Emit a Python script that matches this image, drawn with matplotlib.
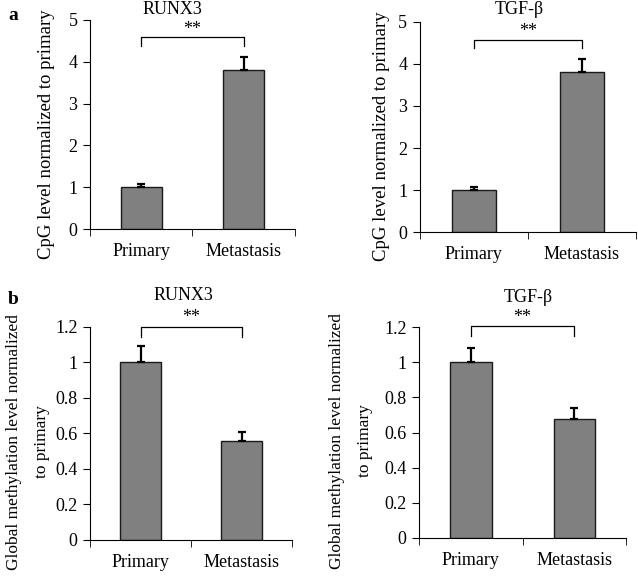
from matplotlib import pyplot as plt
import numpy as np

plt.rcParams['font.family'] = ['Liberation Serif', 'DejaVu Serif']
plt.rcParams['font.size'] = 13

groups = ["Primary", "Metastasis"]

# panel a: CpG level
cpg_runx3 = [1.0, 3.8]
cpg_runx3_err = [0.08, 0.32]
cpg_tgfb = [1.0, 3.8]
cpg_tgfb_err = [0.07, 0.32]

# panel b: global methylation
meth_runx3 = [1.0, 0.56]
meth_runx3_err = [0.09, 0.05]
meth_tgfb = [1.0, 0.68]
meth_tgfb_err = [0.08, 0.06]

cpg_ticks = [0, 1, 2, 3, 4, 5]
cpg_ticklabels = ["0", "1", "2", "3", "4", "5"]
meth_ticks = [0, 0.2, 0.4, 0.6, 0.8, 1.0, 1.2]
meth_ticklabels = ["0", "0.2", "0.4", "0.6", "0.8", "1", "1.2"]


def bar_panel(ax, vals, errs, ticks, ticklabels, br_low, br_top, star_y):
  x = np.arange(len(groups))
  ax.bar(x, vals, width=0.4, color='#808080', edgecolor='#1a1a1a', linewidth=1.0, zorder=2)
  ax.errorbar(x, vals, yerr=[np.zeros(len(errs)), errs], fmt='none', ecolor='black',
              elinewidth=1.6, capsize=3, capthick=1.6, zorder=3)
  ax.set_xlim(-0.5, 1.5)
  ax.set_ylim(ticks[0], ticks[-1])
  ax.set_yticks(ticks)
  ax.set_yticklabels(ticklabels)
  ax.set_xticks(x)
  ax.set_xticklabels(groups, fontsize=13)
  ax.set_xticks([-0.5, 0.5, 1.5], minor=True)
  ax.tick_params(axis='x', which='major', length=0, pad=10)
  ax.tick_params(axis='x', which='minor', length=5, direction='out')
  ax.tick_params(axis='y', length=5, direction='out', labelsize=13, pad=4)
  ax.spines['top'].set_visible(False)
  ax.spines['right'].set_visible(False)
  ax.plot([0, 0, 1, 1], [br_low, br_top, br_top, br_low], color='black', lw=0.9, clip_on=False)
  ax.text(0.5, star_y, "**", ha='center', va='center', fontsize=13, clip_on=False)


fig = plt.figure(figsize=(6.38, 5.76), dpi=100)

ax1 = fig.add_axes([0.141, 0.6024, 0.321, 0.363])
bar_panel(ax1, cpg_runx3, cpg_runx3_err, cpg_ticks, cpg_ticklabels, 4.38, 4.58, 4.76)
ax2 = fig.add_axes([0.658, 0.597, 0.339, 0.365])
bar_panel(ax2, cpg_tgfb, cpg_tgfb_err, cpg_ticks, cpg_ticklabels, 4.38, 4.58, 4.76)
ax3 = fig.add_axes([0.141, 0.0625, 0.317, 0.370])
bar_panel(ax3, meth_runx3, meth_runx3_err, meth_ticks, meth_ticklabels, 1.145, 1.2, 1.25)
ax4 = fig.add_axes([0.657, 0.066, 0.324, 0.366])
bar_panel(ax4, meth_tgfb, meth_tgfb_err, meth_ticks, meth_ticklabels, 1.15, 1.205, 1.255)

# titles and labels placed in pixel-fraction coords
W, H = 638.0, 576.0
fig.text(172 / W, 1 - 9 / H, "RUNX3", ha='center', va='center', fontsize=13)
fig.text(519 / W, 1 - 10 / H, "TGF-β", ha='center', va='center', fontsize=13)
fig.text(183 / W, 1 - 295 / H, "RUNX3", ha='center', va='center', fontsize=13)
fig.text(528 / W, 1 - 297 / H, "TGF-β", ha='center', va='center', fontsize=13)
fig.text(8 / W, 1 - 15 / H, "a", ha='left', va='center', fontsize=14, fontweight='bold')
fig.text(8 / W, 1 - 300 / H, "b", ha='left', va='center', fontsize=14, fontweight='bold')

fig.text(47 / W, 1 - 134 / H, "CpG level normalized to primary", rotation=90,
         ha='center', va='center', fontsize=13.5)
fig.text(382 / W, 1 - 136 / H, "CpG level normalized to primary", rotation=90,
         ha='center', va='center', fontsize=13.5)
fig.text(28 / W, 1 - 442 / H, "Global methylation level normalized\nto primary", rotation=90,
         ha='center', va='center', fontsize=12.5, multialignment='center', linespacing=2.0)
fig.text(351 / W, 1 - 441 / H, "Global methylation level normalized\nto primary", rotation=90,
         ha='center', va='center', fontsize=12.5, multialignment='center', linespacing=2.0)

fig.savefig("out.png", dpi=100)
